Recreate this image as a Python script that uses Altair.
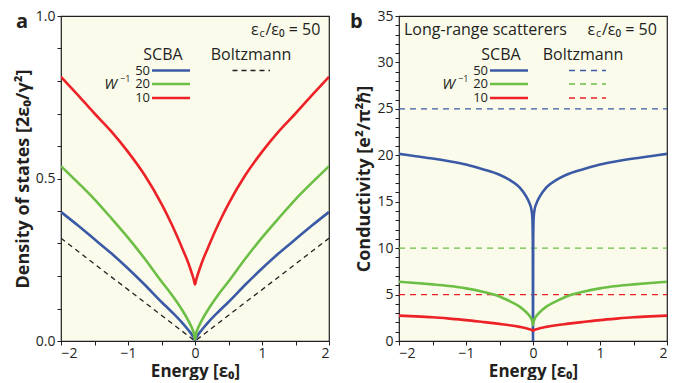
import altair as alt
import pandas as pd

# ---------------- data ----------------
series_names = ["50", "20", "10"]
series_colors = ["#3b5aa6", "#6cbf44", "#ec2227"]

# Panel a: density of states
energy_a = [-2.0, -1.75, -1.5, -1.25, -1.0, -0.75, -0.5, -0.35, -0.2, -0.1, -0.05, -0.02, 0.0,
            0.02, 0.05, 0.1, 0.2, 0.35, 0.5, 0.75, 1.0, 1.25, 1.5, 1.75, 2.0]
dos_50 = [0.397, 0.356, 0.313, 0.27, 0.223, 0.173, 0.12, 0.09, 0.058, 0.034, 0.021, 0.011, 0.003,
          0.011, 0.021, 0.034, 0.058, 0.09, 0.12, 0.173, 0.223, 0.27, 0.313, 0.356, 0.397]
dos_20 = [0.538, 0.488, 0.436, 0.378, 0.318, 0.253, 0.183, 0.143, 0.098, 0.063, 0.042, 0.026, 0.005,
          0.026, 0.042, 0.063, 0.098, 0.143, 0.183, 0.253, 0.318, 0.378, 0.436, 0.488, 0.538]
dos_10 = [0.813, 0.757, 0.70, 0.645, 0.582, 0.51, 0.422, 0.36, 0.29, 0.24, 0.21, 0.19, 0.174,
          0.19, 0.21, 0.24, 0.29, 0.36, 0.422, 0.51, 0.582, 0.645, 0.70, 0.757, 0.813]
boltz_energy_a = [-2.0, 0.0, 2.0]
dos_boltz = [0.316, 0.0, 0.316]

# Panel b: conductivity
energy_b = [-2.0, -1.75, -1.5, -1.25, -1.0, -0.75, -0.5, -0.35, -0.2, -0.1, -0.05, -0.025, -0.01, -0.003, 0.0,
            0.003, 0.01, 0.025, 0.05, 0.1, 0.2, 0.35, 0.5, 0.75, 1.0, 1.25, 1.5, 1.75, 2.0]
cond_50 = [20.15, 19.9, 19.65, 19.35, 19.0, 18.5, 17.9, 17.35, 16.55, 15.55, 14.8, 14.2, 13.3, 11.0, 0.0,
           11.0, 13.3, 14.2, 14.8, 15.55, 16.55, 17.35, 17.9, 18.5, 19.0, 19.35, 19.65, 19.9, 20.15]
cond_20 = [6.38, 6.25, 6.1, 5.92, 5.67, 5.3, 4.8, 4.3, 3.7, 3.1, 2.7, 2.4, 2.1, 1.9, 1.7,
           1.9, 2.1, 2.4, 2.7, 3.1, 3.7, 4.3, 4.8, 5.3, 5.67, 5.92, 6.1, 6.25, 6.38]
cond_10 = [2.73, 2.65, 2.55, 2.41, 2.25, 2.05, 1.84, 1.7, 1.52, 1.37, 1.27, 1.2, 1.15, 1.12, 1.1,
           1.12, 1.15, 1.2, 1.27, 1.37, 1.52, 1.7, 1.84, 2.05, 2.25, 2.41, 2.55, 2.65, 2.73]
boltz_energy_b = [-2.0, 2.0]
cond_boltz_50 = [25, 25]
cond_boltz_20 = [10, 10]
cond_boltz_10 = [5, 5]

# ticks
x_ticks = [-2, -1.5, -1, -0.5, 0, 0.5, 1, 1.5, 2]
y_ticks_a = [0.0, 0.1, 0.2, 0.3, 0.4, 0.5, 0.6, 0.7, 0.8, 0.9, 1.0]
y_labels_a = ["0.0", "0.5", "1.0"]
y_ticks_b = list(range(0, 36))
y_labels_b = [0, 5, 10, 15, 20, 25, 30, 35]

# ---------------- styling ----------------
FONT = "Open Sans"
INK = "#231f20"
BG = "#fbfbec"
W, H = 268, 325
DUMMY = pd.DataFrame({"k": [0]})


def frame(energy, values):
    return pd.DataFrame({"E": energy, "v": values})


x_axis = alt.Axis(
    values=x_ticks,
    labelExpr="datum.value % 1 == 0 ? (datum.value < 0 ? '\u2212' + abs(datum.value) : '' + datum.value) : ''",
    title="Energy [\u03b5\u2080]",
)
x_enc = alt.X("E:Q", scale=alt.Scale(domain=[-2, 2], nice=False, zero=False), axis=x_axis)

y_enc_a = alt.Y(
    "v:Q",
    scale=alt.Scale(domain=[0, 1], nice=False),
    axis=alt.Axis(
        values=y_ticks_a,
        labelExpr="indexof(%s, format(datum.value, '.1f')) >= 0 ? format(datum.value, '.1f') : ''" % str(y_labels_a),
        title="Density of states [2\u03b5\u2080/\u03b3\u00b2]",
    ),
)
y_enc_b = alt.Y(
    "v:Q",
    scale=alt.Scale(domain=[0, 35], nice=False),
    axis=alt.Axis(
        values=y_ticks_b,
        labelExpr="indexof(%s, datum.value) >= 0 ? '' + datum.value : ''" % str(y_labels_b),
        title="Conductivity [e\u00b2/\u03c0\u00b2\u210f]",
    ),
)


def curve(energy, values, color, y_enc, width=2.6, dash=None, interp="monotone"):
    kw = dict(color=color, strokeWidth=width, interpolate=interp, clip=True)
    if dash:
        kw["strokeDash"] = dash
    return alt.Chart(frame(energy, values)).mark_line(**kw).encode(x=x_enc, y=y_enc)


def txt(text, x, y, size=15, align="left", baseline="middle", weight="normal", style="normal"):
    return alt.Chart(DUMMY).mark_text(
        text=text, align=align, baseline=baseline, fontSize=size, font=FONT,
        fontWeight=weight, fontStyle=style, color=INK,
    ).encode(x=alt.value(x), y=alt.value(y))


def hline(x1, x2, y, color, dash=None, width=2.6):
    kw = dict(color=color, strokeWidth=width)
    if dash:
        kw["strokeDash"] = dash
    return alt.Chart(DUMMY).mark_rule(**kw).encode(x=alt.value(x1), x2=alt.value(x2), y=alt.value(y))


def ratio_label(x0):
    return [
        txt("\u03b5", x0, 14, size=16),
        txt("c", x0 + 8.5, 18, size=11),
        txt("/\u03b5\u2080 = 50", x0 + 14.5, 14, size=16),
    ]


def legend_common():
    rows_y = [54.5, 68, 82]
    layers = [
        txt("SCBA", 102, 38.5, size=16, align="center"),
        txt("W", 56, 68, size=15, align="right", style="italic"),
        txt("\u22121", 59, 62.5, size=9),
    ]
    for name, color, yy in zip(series_names, series_colors, rows_y):
        layers.append(txt(name, 89, yy, size=13, align="right"))
        layers.append(hline(91, 129, yy, color))
    return layers, rows_y


# ---------------- panel a ----------------
leg_a, rows_y = legend_common()
panel_a = alt.layer(
    curve(boltz_energy_a, dos_boltz, INK, y_enc_a, width=1.3, dash=[5, 4], interp="linear"),
    curve(energy_a, dos_50, series_colors[0], y_enc_a),
    curve(energy_a, dos_20, series_colors[1], y_enc_a),
    curve(energy_a, dos_10, series_colors[2], y_enc_a),
    *leg_a,
    txt("Boltzmann", 190, 38.5, size=16, align="center"),
    hline(171.5, 209, rows_y[0], INK, dash=[5, 4], width=1.3),
    *ratio_label(190),
    txt("a", -45, 12, size=20, weight="bold", baseline="alphabetic"),
).properties(width=W, height=H)

# ---------------- panel b ----------------
leg_b, rows_y = legend_common()
boltz_b = [cond_boltz_50, cond_boltz_20, cond_boltz_10]
panel_b = alt.layer(
    *[curve(boltz_energy_b, vals, c, y_enc_b, width=1.3, dash=[6, 5], interp="linear")
      for vals, c in zip(boltz_b, series_colors)],
    curve(energy_b, cond_50, series_colors[0], y_enc_b),
    curve(energy_b, cond_20, series_colors[1], y_enc_b),
    curve(energy_b, cond_10, series_colors[2], y_enc_b),
    *leg_b,
    txt("Boltzmann", 184, 38.5, size=16, align="center"),
    *[hline(170, 207, yy, c, dash=[6, 5], width=1.3) for yy, c in zip(rows_y, series_colors)],
    txt("Long-range scatterers", 5, 14, size=16),
    *ratio_label(188.5),
    txt("b", -49, 12, size=20, weight="bold", baseline="alphabetic"),
).properties(width=W, height=H)

chart = alt.hconcat(panel_a, panel_b, spacing=18).properties(
    padding={"left": 5, "top": 0, "right": 0, "bottom": 0}
).configure_view(
    fill=BG, stroke=INK, strokeWidth=1.2
).configure_axis(
    grid=False, domain=False,
    labelFont=FONT, labelFontSize=14, labelColor=INK, labelPadding=1,
    titleFont=FONT, titleFontSize=17, titleFontWeight="bold", titleColor=INK, titlePadding=3,
    tickColor=INK, tickSize=4, tickWidth=1,
).configure_axisY(titlePadding=3, labelPadding=2, titleFontSize=18)

chart.save("out.html", embed_options={"renderer": "svg", "actions": False})
